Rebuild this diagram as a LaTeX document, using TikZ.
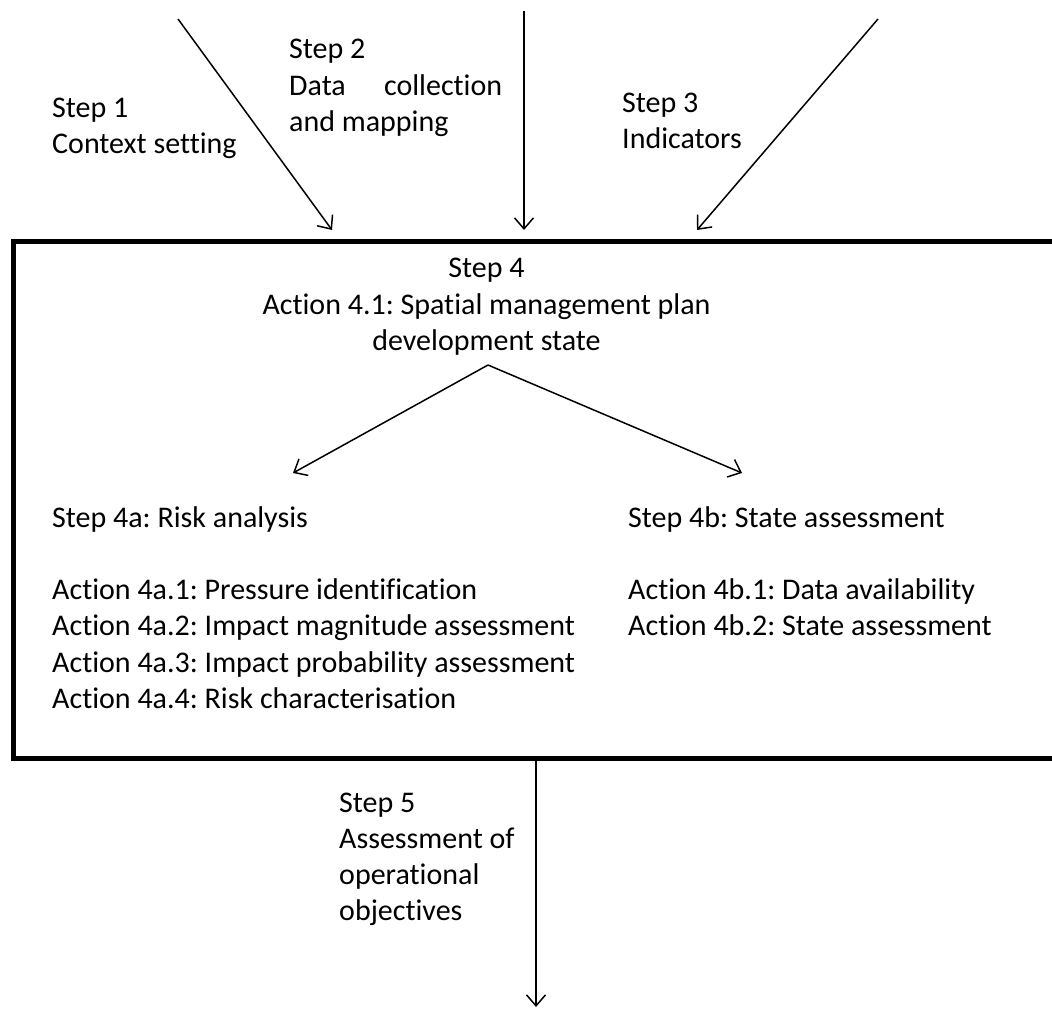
\documentclass[tikz,border=0pt]{standalone}
\usepackage{fontspec}
\setmainfont{Carlito}[Ligatures=NoCommon]
\usetikzlibrary{arrows.meta}
\frenchspacing
\begin{document}
\begin{tikzpicture}[x=1pt,y=-1pt,
  txt/.style={inner sep=0pt,anchor=base west,font=\fontsize{30pt}{36.5pt}\selectfont},
  ctxt/.style={inner sep=0pt,anchor=base,font=\fontsize{30pt}{36.5pt}\selectfont},
  conn/.style={line width=1.5pt,-{Straight Barb[length=11pt,width=19pt]}}]
\useasboundingbox (0,0) rectangle (1052,1009);
\clip (0,0) rectangle (1052,1009);
% main box
\node[draw,line width=5pt,inner sep=0pt,anchor=north west,minimum width=1060pt,minimum height=517pt] (box) at (11,238.5) {};
% top labels
\node[txt] (s1a) at (52,117) {Step 1};
\node[txt] (s1b) at (52,153) {Context setting};
\node[txt] (s2a) at (289,58) {Step 2};
\node[txt] (s2b) at (289,95) {\hbox to 213pt{Data\hfill collection}};
\node[txt] (s2c) at (289,131.5) {and mapping};
\node[txt] (s3a) at (622,112) {Step 3};
\node[txt] (s3b) at (622,148.5) {Indicators};
% step 4
\node[ctxt] (s4a) at (486.5,277) {Step 4};
\node[ctxt] (s4b) at (486.5,314) {Action 4.1: Spatial management plan};
\node[ctxt] (s4c) at (486.5,350.5) {development state};
% 4a
\node[txt] (a0) at (52,527) {Step 4a: Risk analysis};
\node[txt] (a1) at (52,599) {Action 4a.1: Pressure identification};
\node[txt] (a2) at (52,635.5) {Action 4a.2: Impact magnitude assessment};
\node[txt] (a3) at (52,672) {Action 4a.3: Impact probability assessment};
\node[txt] (a4) at (52,708.5) {Action 4a.4: Risk characterisation};
% 4b
\node[txt] (b0) at (628,527) {Step 4b: State assessment};
\node[txt] (b1) at (628,599) {Action 4b.1: Data availability};
\node[txt] (b2) at (628,635.5) {Action 4b.2: State assessment};
% step 5
\node[txt] (s5a) at (339,812) {Step 5};
\node[txt] (s5b) at (339,848) {Assessment of};
\node[txt] (s5c) at (339,884) {operational};
\node[txt] (s5d) at (339,920) {objectives};
% connector coordinates
\coordinate (i1) at (178,19);
\coordinate (o1) at (332,230);
\coordinate (i2) at (524,11);
\coordinate (o2) at (524,230);
\coordinate (i3) at (878,19);
\coordinate (o3) at (697,230);
\coordinate (apex) at (488,365);
\coordinate (ta) at (293,473);
\coordinate (tb) at (742,473);
\coordinate (i5) at (536,758);
\coordinate (o5) at (536,1007);
\draw[conn] (i1) -- (o1);
\draw[conn] (i2) -- (o2);
\draw[conn] (i3) -- (o3);
\draw[conn] (apex) -- (ta);
\draw[conn] (apex) -- (tb);
\draw[conn] (i5) -- (o5);
\end{tikzpicture}
\end{document}
